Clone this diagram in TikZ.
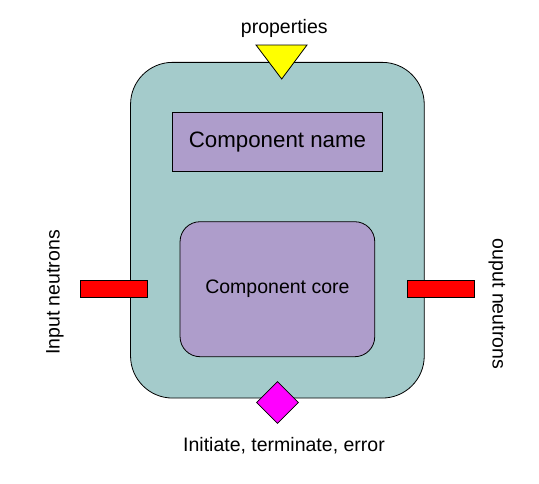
\documentclass[tikz,border=0pt]{standalone}
\usepackage{fontspec}
\setmainfont{Liberation Sans}
\usetikzlibrary{shapes.geometric}
\definecolor{shell}{RGB}{164,203,203}
\definecolor{lilac}{RGB}{174,157,203}
\definecolor{portred}{RGB}{255,0,0}
\definecolor{propyellow}{RGB}{255,255,0}
\definecolor{ctrlmagenta}{RGB}{255,0,255}
\tikzset{
  box/.style={draw=black, line width=0.8pt, inner sep=0pt},
  lbl/.style={font=\fontsize{19.5}{22}\selectfont, inner sep=0pt},
  port/.style={box, fill=portred, minimum width=67pt, minimum height=17pt},
}
\begin{document}
\begin{tikzpicture}[x=1pt,y=-1pt]
\useasboundingbox (0,0) rectangle (539,483);
\node[box, fill=shell, rounded corners=42pt, minimum width=293.7pt, minimum height=335.7pt] (shell) at (277.4,230.2) {};
\node[box, fill=lilac, minimum width=210.4pt, minimum height=59pt, font=\fontsize{22.3}{24}\selectfont] (name) at (277.5,141.8) {Component name};
\node[box, fill=lilac, rounded corners=20pt, minimum width=194.7pt, minimum height=135pt, font=\fontsize{19.5}{22}\selectfont] (core) at (277.4,289.2) {Component core};
\node[port] (inport) at (114,289) {};
\node[port] (outport) at (440.8,289) {};
\draw[line width=0.8pt, fill=propyellow] (256,45) -- (307,45) -- (281.7,79) -- cycle;
\node[box, fill=ctrlmagenta, diamond, minimum width=42pt, minimum height=42pt] (ctrl) at (277.5,402.5) {};
\node[lbl] (props) at (284.3,28) {properties};
\node[lbl] (events) at (284,446) {Initiate, terminate, error};
\node[lbl, rotate=90] (inlbl) at (55,292.5) {Input neutrons};
\node[lbl, rotate=-90] (outlbl) at (497,304) {ouput neutrons};
\end{tikzpicture}
\end{document}
